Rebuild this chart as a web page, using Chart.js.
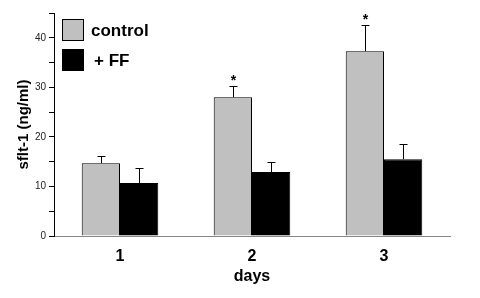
<!DOCTYPE html>
<html>
<head>
<meta charset="utf-8">
<script src="https://cdn.jsdelivr.net/npm/chart.js@4"></script>
<style>
html,body{margin:0;padding:0;background:#fff;}
#wrap{width:480px;height:298px;position:relative;}
</style>
</head>
<body>
<div id="wrap"><canvas id="c" width="480" height="298"></canvas></div>
<script>
const days = ['1', '2', '3'];
const control = [14.7, 28.0, 37.3];
const controlErr = [1.4, 2.2, 5.2];
const ff = [10.7, 12.9, 15.5];
const ffErr = [3.0, 2.0, 3.0];
const significance = ['', '*', '*'];
const yMax = 45;
const yStep = 5;
const yLabelEvery = 10;

const FONT = '"Liberation Sans", Arial, sans-serif';

const errPlugin = {
  id: 'errbars',
  afterDatasetsDraw(chart) {
    const ctx = chart.ctx;
    const y = chart.scales.y;
    const errs = [controlErr, ffErr];
    ctx.save();
    ctx.strokeStyle = '#000';
    ctx.lineWidth = 1;
    chart.data.datasets.forEach((ds, di) => {
      const meta = chart.getDatasetMeta(di);
      meta.data.forEach((bar, i) => {
        const v = ds.data[i];
        const top = y.getPixelForValue(v + errs[di][i]);
        const x = Math.round(bar.x) + 0.5;
        ctx.beginPath();
        ctx.moveTo(x, bar.y);
        ctx.lineTo(x, Math.round(top) + 0.5);
        ctx.moveTo(x - 4, Math.round(top) + 0.5);
        ctx.lineTo(x + 4, Math.round(top) + 0.5);
        ctx.stroke();
        if (di === 0 && significance[i]) {
          ctx.fillStyle = '#000';
          ctx.font = 'bold 14px ' + FONT;
          ctx.textAlign = 'center';
          ctx.textBaseline = 'middle';
          ctx.fillText(significance[i], x, top - 5);
        }
      });
    });
    ctx.restore();
  }
};

const legendPlugin = {
  id: 'customLegend',
  afterDraw(chart) {
    const ctx = chart.ctx;
    ctx.save();
    const items = chart.data.datasets;
    const bx = 62, by = 19, bs = 22, gap = 30;
    items.forEach((ds, i) => {
      const yy = by + i * gap;
      ctx.fillStyle = ds.backgroundColor;
      ctx.fillRect(bx, yy, bs, bs);
      ctx.strokeStyle = '#000';
      ctx.lineWidth = 1;
      ctx.strokeRect(bx + 0.5, yy + 0.5, bs - 1, bs - 1);
      ctx.fillStyle = '#000';
      ctx.font = 'bold 17px ' + FONT;
      ctx.textAlign = 'left';
      ctx.textBaseline = 'middle';
      ctx.fillText(ds.label, i === 0 ? 91 : 94, yy + bs / 2 + 1);
    });
    ctx.restore();
  }
};

new Chart(document.getElementById('c'), {
  type: 'bar',
  data: {
    labels: days,
    datasets: [
      { label: 'control', data: control, backgroundColor: '#c0c0c0', borderColor: '#000', borderWidth: 1, borderSkipped: 'bottom' },
      { label: '+ FF', data: ff, backgroundColor: '#000000', borderColor: '#000', borderWidth: 1, borderSkipped: 'bottom' }
    ]
  },
  options: {
    responsive: false,
    animation: false,
    devicePixelRatio: 1,
    layout: { padding: { top: 13, right: 30, left: 0, bottom: 0 } },
    plugins: { legend: { display: false }, tooltip: { enabled: false } },
    datasets: { bar: { categoryPercentage: 0.58, barPercentage: 1.0 } },
    scales: {
      x: {
        grid: { display: true, drawOnChartArea: false, drawTicks: false },
        border: { display: true, color: '#888', width: 1 },
        ticks: { color: '#000', font: { family: FONT, size: 16, weight: 'bold' }, padding: 11 },
        title: { display: true, text: 'days', color: '#000', font: { family: FONT, size: 16, weight: 'bold' }, padding: { top: 0, bottom: 12 } },
        afterFit(s) { s.height = 62; }
      },
      y: {
        min: 0, max: yMax,
        grid: { display: true, drawOnChartArea: false, drawTicks: true, tickLength: 5, color: '#000' },
        border: { display: true, color: '#000', width: 1 },
        ticks: {
          stepSize: yStep,
          color: '#222',
          padding: 3,
          font: { family: FONT, size: 10 },
          callback: (v) => (v % yLabelEvery === 0 ? String(v) : '')
        },
        title: { display: true, text: 'sflt-1 (ng/ml)', color: '#000', font: { family: FONT, size: 15, weight: 'bold' }, padding: { top: 15, bottom: 0 } },
        afterFit(s) { s.width = 54; }
      }
    }
  },
  plugins: [errPlugin, legendPlugin]
});
</script>
</body>
</html>
